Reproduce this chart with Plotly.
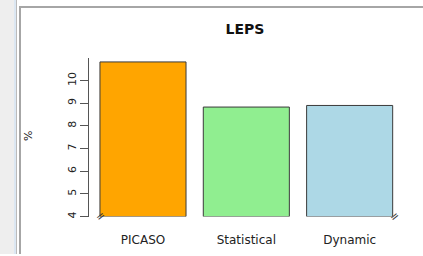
import plotly.graph_objects as go

categories = ["PICASO", "Statistical", "Dynamic"]
values = [10.82, 8.83, 8.9]
colors = ["#FFA500", "#90EE90", "#ADD8E6"]
y_ticks = [4, 5, 6, 7, 8, 9, 10]
title_text = "LEPS"
y_label = "%"

W, H = 423, 256

def px_x(p):
    return p / W

def px_y(p):
    return 1 - p / H

fig = go.Figure()
fig.add_trace(go.Bar(
    x=categories, y=[v - 4 for v in values], base=4,
    width=0.833,
    marker=dict(color=colors, line=dict(color="#3a3a3a", width=1)),
    showlegend=False, hoverinfo="skip",
))

# frame decorations (window chrome around the plot)
shapes = [
    dict(type="rect", xref="paper", yref="paper", x0=px_x(412), x1=1, y0=0, y1=px_y(8),
         fillcolor="white", line=dict(width=0), layer="above"),
    dict(type="rect", xref="paper", yref="paper", x0=0, x1=px_x(14), y0=0, y1=1,
         fillcolor="#EEEEEE", line=dict(width=0)),
    dict(type="rect", xref="paper", yref="paper", x0=px_x(14), x1=px_x(16), y0=0, y1=1,
         fillcolor="#DCE7F2", line=dict(width=0)),
    dict(type="rect", xref="paper", yref="paper", x0=px_x(16), x1=px_x(17), y0=0, y1=1,
         fillcolor="#BBBBBB", line=dict(width=0)),
    dict(type="rect", xref="paper", yref="paper", x0=px_x(19), x1=px_x(21), y0=0, y1=px_y(6),
         fillcolor="#A6A6A6", line=dict(width=0)),
    dict(type="rect", xref="paper", yref="paper", x0=px_x(19), x1=1, y0=px_y(8), y1=px_y(6),
         fillcolor="#A6A6A6", line=dict(width=0)),
]

annotations = [
    dict(text="=", xref="paper", yref="y", x=px_x(90), y=4, showarrow=False,
         textangle=-40, font=dict(family="DejaVu Sans", size=11, color="#333")),
    dict(text="=", xref="paper", yref="y", x=px_x(405), y=4, showarrow=False,
         textangle=-40, font=dict(family="DejaVu Sans", size=11, color="#333")),
    dict(text=y_label, xref="paper", yref="paper", x=px_x(29), y=px_y(137), showarrow=False,
         textangle=-90, font=dict(family="DejaVu Sans", size=11, color="#222"),
         xanchor="center", yanchor="middle"),
]

fig.update_layout(
    width=W, height=H,
    margin=dict(l=0, r=0, t=0, b=0),
    paper_bgcolor="white", plot_bgcolor="white",
    title=dict(text="<b>" + title_text + "</b>", x=px_x(245), xanchor="center",
               y=px_y(29), yanchor="middle",
               font=dict(family="DejaVu Sans", size=14, color="#111")),
    xaxis=dict(
        range=[-1.384, 2.710], domain=[0, 1], anchor="y",
        showline=False, showgrid=False, zeroline=False,
        ticks="outside", ticklen=12, tickcolor="rgba(0,0,0,0)",
        tickfont=dict(family="DejaVu Sans", size=12, color="#222"),
    ),
    yaxis=dict(
        range=[4, 11], domain=[1 - 218.3 / H, 1 - 58.3 / H],
        anchor="free", position=px_x(88),
        showline=True, linecolor="#555", linewidth=1,
        showgrid=False, zeroline=False,
        ticks="outside", ticklen=8, tickcolor="#555", tickwidth=1,
        tickvals=y_ticks, tickangle=-90,
        tickfont=dict(family="DejaVu Sans", size=11, color="#222"),
    ),
    shapes=shapes,
    annotations=annotations,
)

fig.write_html(
    "out.html", config={"displayModeBar": False},
    post_script=(
        "document.body.style.margin='0';"
        "document.body.style.overflow='hidden';"
        "document.documentElement.style.overflow='hidden';"
    ),
)
